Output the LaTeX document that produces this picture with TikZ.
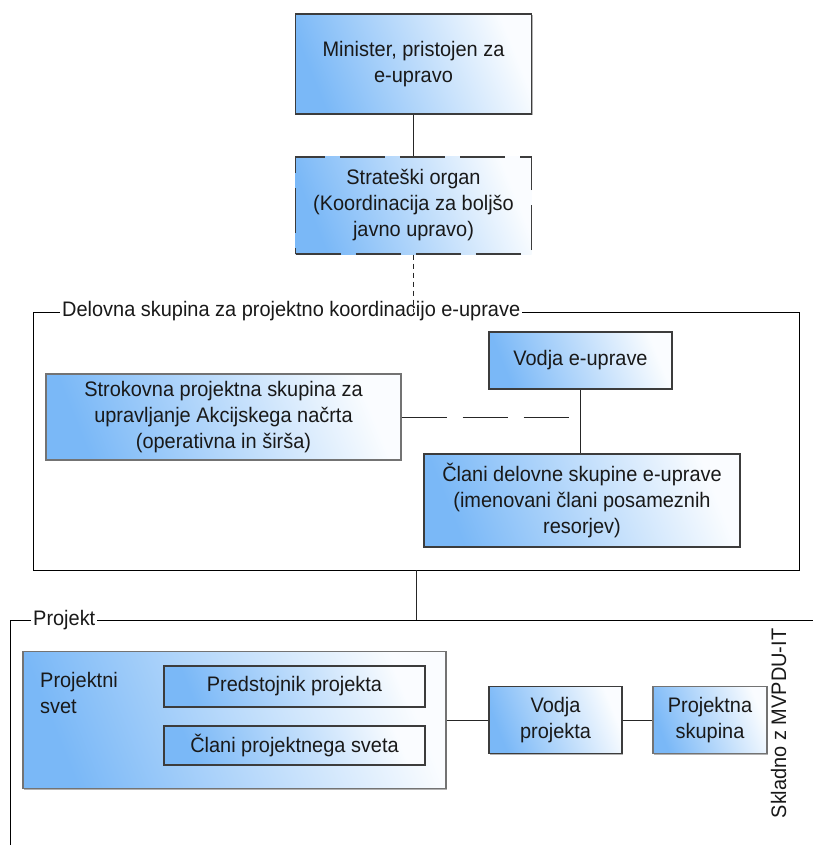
\documentclass[tikz,border=0pt]{standalone}
\usepackage{fontspec}
\setmainfont{Liberation Sans}[FakeStretch=0.95]
\usetikzlibrary{shadows}
\definecolor{boxblue}{RGB}{122,184,247}
\definecolor{boxedge}{RGB}{60,60,60}
\begin{document}
\begin{tikzpicture}[x=1pt,y=-1pt,
  every node/.style={font=\fontsize{21}{26}\selectfont, text=black!90},
  sz/.style 2 args={minimum width=#1pt, minimum height=#2pt},
  unit/.style={draw=boxedge, line width=1.1pt, top color=white!96!boxblue, bottom color=boxblue,
    middle color=boxblue!52!white, shading angle=-68, align=center, inner sep=0pt},
  shade box/.style={unit, drop shadow={shadow xshift=1pt, shadow yshift=-1pt,
    fill=black!30, opacity=1}},
  frame/.style={draw=black, line width=0.9pt},
  title/.style={fill=white, inner xsep=2pt, inner ysep=0pt, anchor=west},
  link/.style={draw=black!85, line width=1pt},
]
\useasboundingbox (0,0) rectangle (813,861);

% top of the hierarchy
\node[shade box, sz={236}{100}] (min) at (413.5,64)
  {Minister, pristojen za\\e-upravo};
\node[unit, sz={236}{97}, dash pattern=on 45pt off 15pt] (strat) at (413.5,205.5)
  {Strateški organ\\(Koordinacija za boljšo\\javno upravo)};
\draw[link] (min) -- (strat);

% working group frame
\node[frame, sz={766}{258}] (wg) at (416,441) {};
\node[title] (wgtitle) at (60,311) {Delovna skupina za projektno koordinacijo e-uprave};
\draw[link, dash pattern=on 5pt off 4pt] (strat.south) -- (strat.south |- wg.north);

\node[shade box, sz={183}{57}] (vodjae) at (580.5,360.5) {Vodja e-uprave};
\node[shade box, sz={355}{86}, draw=black!55] (strok) at (223.5,417)
  {Strokovna projektna skupina za\\upravljanje Akcijskega načrta\\(operativna in širša)};
\node[shade box, sz={316}{93}] (clani) at (582,500.5)
  {Člani delovne skupine e-uprave\\(imenovani člani posameznih\\resorjev)};
\draw[link] (vodjae.south) -- (vodjae.south |- clani.north);
\draw[link, dash pattern=on 45pt off 16pt] (strok.east) -- (strok.east -| vodjae.south);

% project frame (open to the right and bottom)
\coordinate (pf) at (10,620);
\coordinate (pfend) at (813,620);
\coordinate (pfbot) at (10,845);
\draw[frame] (pfbot) -- (pf) -- (pfend);
\node[title] (ptitle) at (31,620) {Projekt};
\draw[link] (wg.south) -- (wg.south |- pf);

% project board
\node[shade box, sz={423}{137}, draw=black!55] (ps) at (234.5,720) {};
\node[anchor=north west, align=left, inner sep=0pt] (pslabel) at (40,672.5) {Projektni\\svet};
\node[unit, sz={261}{41}] (pred) at (294.5,686.5) {Predstojnik projekta};
\node[unit, sz={261}{39}] (clps) at (294.5,745.5) {Člani projektnega sveta};

\node[shade box, sz={133}{67}] (vp) at (555.5,720) {Vodja\\projekta};
\node[shade box, sz={114}{67}, draw=black!55] (psk) at (710,720) {Projektna\\skupina};
\draw[link] (ps) -- (vp);
\draw[link] (vp) -- (psk);

\node[rotate=90, anchor=base, inner sep=0pt] (mvp) at (786,723.5) {Skladno z MVPDU-IT};
\end{tikzpicture}
\end{document}
